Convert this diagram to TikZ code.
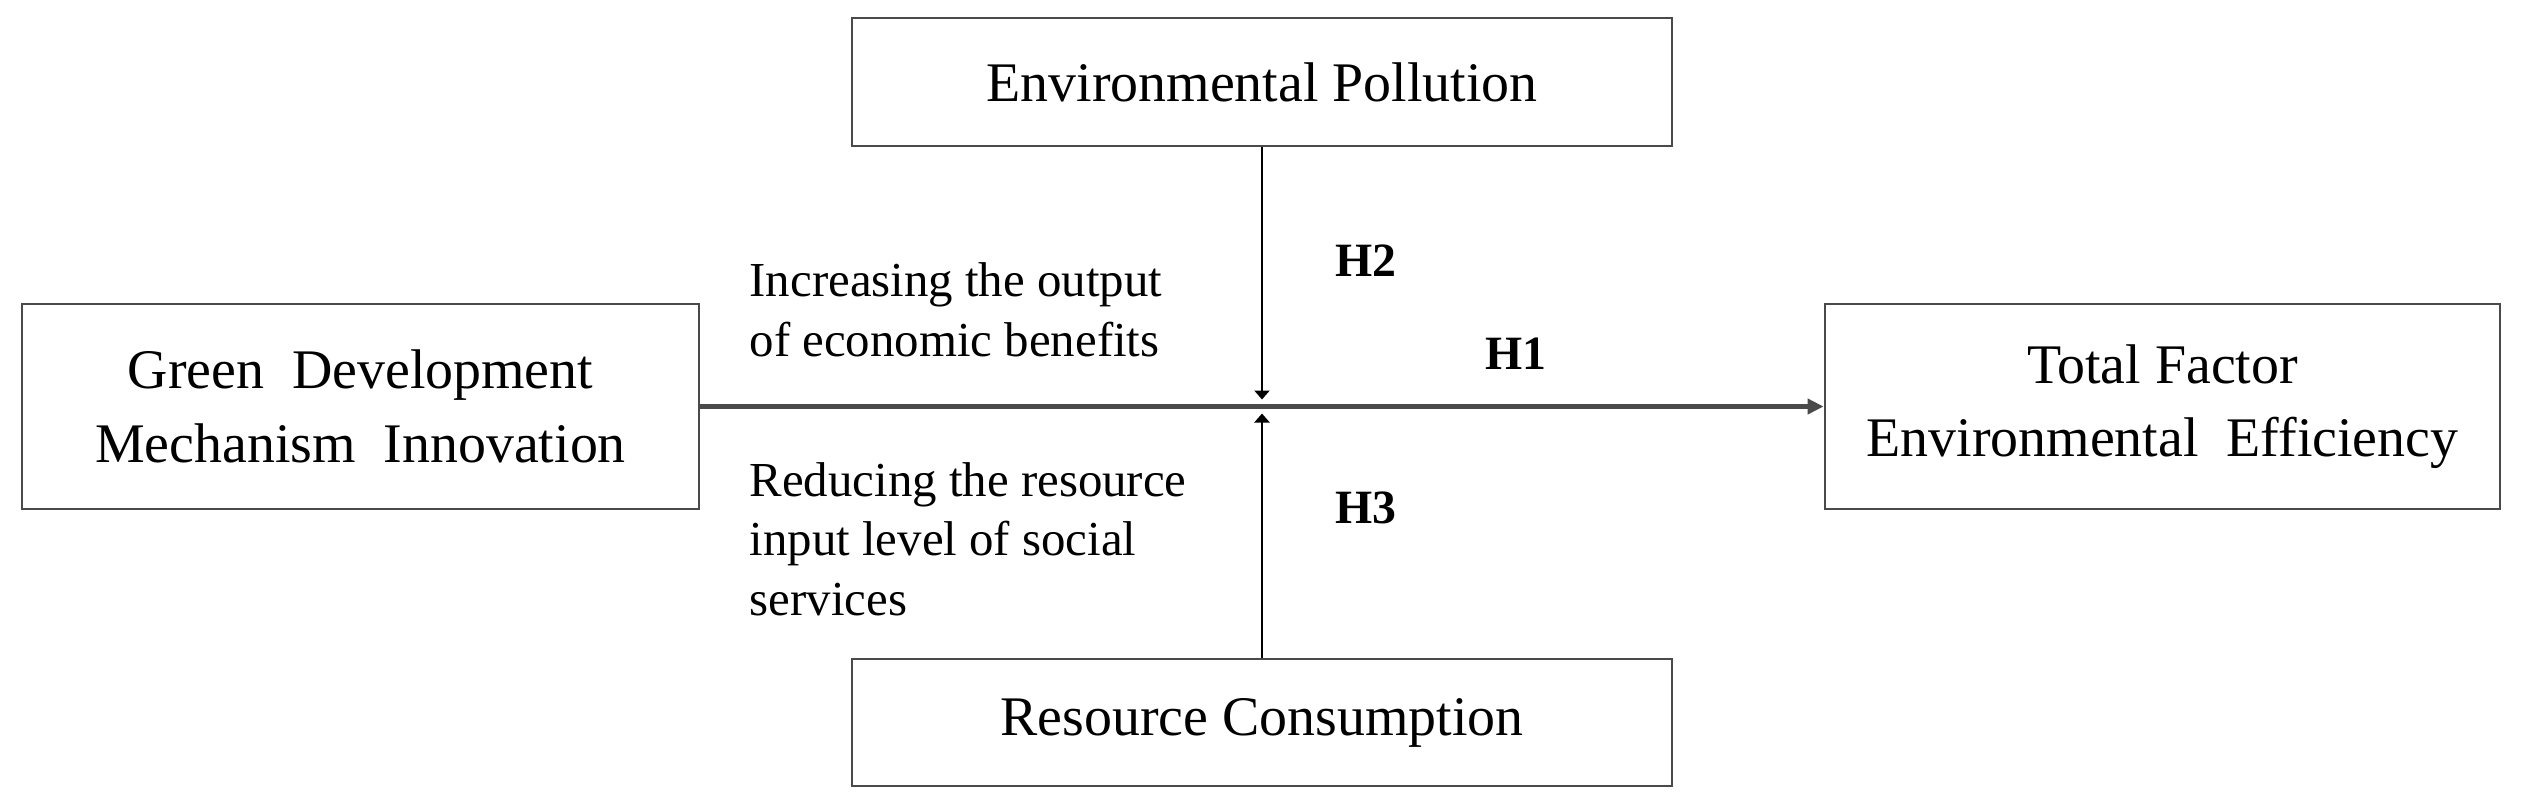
\documentclass[tikz,border=0pt]{standalone}
\usepackage{fontspec}
\setmainfont{Liberation Serif}
\usetikzlibrary{arrows.meta,calc}
\definecolor{boxline}{HTML}{4A4A4A}
\definecolor{mainline}{HTML}{4A4A4A}
\tikzset{
  pbox/.style={draw=boxline, line width=0.028cm, inner sep=0pt, align=center,
    font=\fontsize{15.9}{20.9}\selectfont},
  lbl/.style={inner sep=0pt, align=left, font=\fontsize{13.9}{16.8}\selectfont},
  hyp/.style={inner sep=0pt, font=\fontsize{13.6}{16}\selectfont\bfseries},
  mainarrow/.style={draw=mainline, line width=0.045cm, -{Triangle[length=0.16cm,width=0.15cm]}},
  modarrow/.style={draw=black, line width=0.022cm, -{Triangle[length=0.09cm,width=0.15cm]}}
}
\begin{document}
\begin{tikzpicture}
\useasboundingbox (0,0) rectangle (25.22,8.04);
% boxes (px -> x*0.01, (804-y)*0.01)
\node[pbox, minimum width=6.77cm, minimum height=2.05cm] (left) at (3.605,3.975) {Green~ Development\\Mechanism~ Innovation};
\node[pbox, minimum width=6.75cm, minimum height=2.05cm] (right) at (21.625,3.975) {Total Factor\\Environmental~ Efficiency};
\node[pbox, minimum width=8.20cm, minimum height=1.28cm] (top) at (12.62,7.22) {Environmental Pollution};
\node[pbox, minimum width=8.20cm, minimum height=1.27cm] (bottom) at (12.62,0.815) {Resource Consumption};
% junction
\coordinate (j) at ($(top.south)!(left.east)!(bottom.north)$);
% connectors
\draw[mainarrow] (left.east) -- (right.west);
\draw[modarrow, shorten >=0.07cm] (top.south) -- (j);
\draw[modarrow, shorten >=0.07cm] (bottom.north) -- (j);
% labels
\node[lbl, anchor=base west] (inc) at (7.49,4.48) {Increasing the output\\of economic benefits};
\node[lbl, anchor=base west] (red) at (7.49,1.89) {Reducing the resource\\input level of social\\services};
\node[hyp] (h2) at (13.66,5.43) {H2};
\node[hyp] (h1) at (15.16,4.50) {H1};
\node[hyp] (h3) at (13.66,2.96) {H3};
\end{tikzpicture}
\end{document}
